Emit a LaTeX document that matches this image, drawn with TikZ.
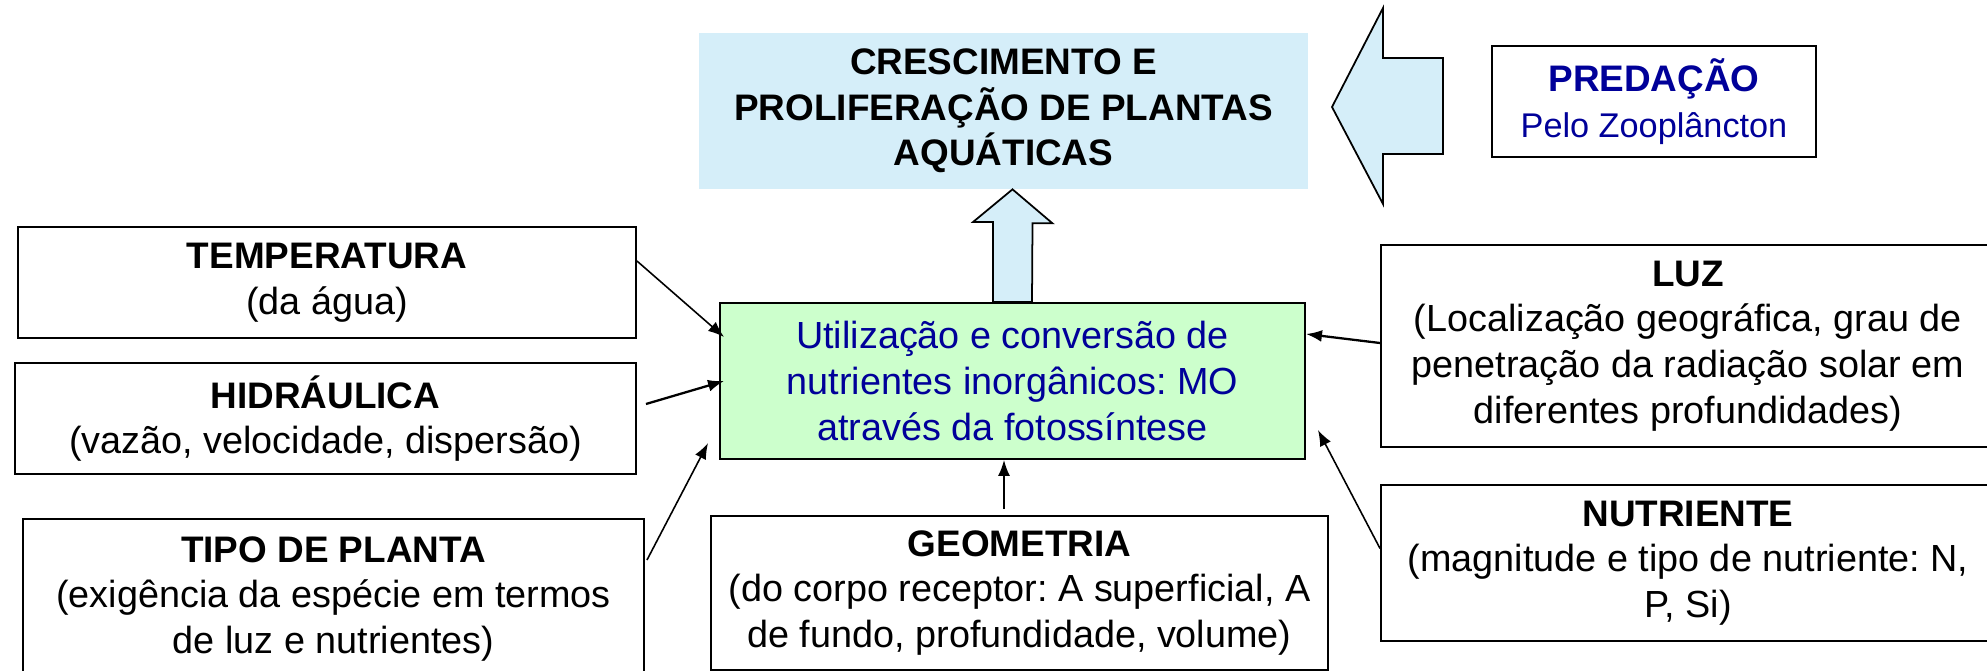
\documentclass[tikz,border=0pt]{standalone}
\usepackage{fontspec}
\setmainfont{Liberation Sans}
\usetikzlibrary{arrows.meta}
\definecolor{sky-fill}{HTML}{D5EEF9}
\definecolor{mint-fill}{HTML}{CCFFCC}
\definecolor{deep-blue}{HTML}{000099}
\newcommand{\titulo}[1]{{\fontsize{21}{26}\selectfont\bfseries #1}}
\frenchspacing

\begin{document}
\begin{tikzpicture}[
    fator/.style={draw, line width=1.1pt, align=center, inner sep=0pt,
                  font=\fontsize{21.5}{26}\selectfont},
    conector/.style={-{Latex[length=0.32cm,width=0.24cm]}, line width=0.9pt},
    bloco/.style={draw, line width=1pt, fill=sky-fill, line join=miter}]
    % Diagram: factors acting on the growth of aquatic plants.
    % Coordinates: (x, y), page 39.74cm x 13.42cm, origin at top left
    %   growth box at (20.07,-2.22), 12.18cm x 3.12cm (no border)
    %   photosynthesis box at (20.25,-7.62), 11.7cm x 3.12cm
    %   left column x=6.5, right column x=33.7, bottom middle x=20.4
    \useasboundingbox (0,0) rectangle (39.74,-13.42);
    \node[fill=sky-fill, minimum width=12.18cm, minimum height=3.12cm,
          align=center, font=\fontsize{21.5}{26}\selectfont] (cresc) at (20.07,-2.22)
          {\titulo{CRESCIMENTO E}\\ \titulo{PROLIFERAÇÃO DE PLANTAS}\\ \titulo{AQUÁTICAS}};
    \node[fator, fill=mint-fill, text=deep-blue, minimum width=11.7cm,
          minimum height=3.12cm] (util) at (20.25,-7.62)
          {Utilização e conversão de\\ nutrientes inorgânicos: MO\\ através da fotossíntese};
    \node[fator, text=deep-blue, minimum width=6.48cm, minimum height=2.22cm,
          font=\fontsize{19.5}{26}\selectfont] (pred) at (33.08,-2.03)
          {\titulo{PREDAÇÃO}\\ Pelo Zooplâncton};
    \node[fator, minimum width=12.36cm, minimum height=2.22cm] (temp) at (6.54,-5.65)
          {\titulo{TEMPERATURA}\\ (da água)};
    \node[fator, minimum width=12.42cm, minimum height=2.22cm] (hidr) at (6.51,-8.37)
          {\titulo{HIDRÁULICA}\\ (vazão, velocidade, dispersão)};
    \node[fator, minimum width=12.42cm, minimum height=3.2cm] (tipo) at (6.67,-11.98)
          {\titulo{TIPO DE PLANTA}\\ (exigência da espécie em termos\\ de luz e nutrientes)};
    \node[fator, minimum width=12.34cm, minimum height=3.08cm] (geom) at (20.39,-11.86)
          {\titulo{GEOMETRIA}\\ (do corpo receptor: A superficial, A\\ de fundo, profundidade, volume)};
    \node[fator, minimum width=12.28cm, minimum height=4.04cm] (luz) at (33.76,-6.92)
          {\titulo{LUZ}\\ (Localização geográfica, grau de\\ penetração da radiação solar em\\ diferentes profundidades)};
    \node[fator, minimum width=12.28cm, minimum height=3.12cm] (nutr) at (33.76,-11.26)
          {\titulo{NUTRIENTE}\\ (magnitude e tipo de nutriente: N,\\ P, Si)};
    % block arrows
    \draw[bloco] ([xshift=-0.39cm]util.north) -- ++(0,1.6) -- ++(-0.4,0)
      -- (util.north |- cresc.south) -- ++(0.8,-0.68) -- ++(-0.4,0)
      -- ([xshift=0.39cm]util.north) -- cycle;
    \draw[bloco] (26.64,-2.14) -- (27.66,-0.16) -- (27.66,-1.16) -- (28.86,-1.16)
      -- (28.86,-3.08) -- (27.66,-3.08) -- (27.66,-4.08) -- cycle;
    % factor arrows
    \draw[conector] ([yshift=0.43cm]temp.east) -- ([xshift=0.1cm,yshift=0.88cm]util.west);
    \draw[conector, line width=1.3pt] ([xshift=0.18cm,yshift=0.29cm]hidr.east) -- ([xshift=0.1cm]util.west);
    \draw[conector] ([xshift=0.04cm,yshift=0.78cm]tipo.east) -- ([xshift=-0.22cm,yshift=-1.24cm]util.west);
    \draw[conector] ([xshift=-0.31cm,yshift=0.12cm]geom.north) -- ([xshift=-0.31cm]geom.north |- util.south);
    \draw[conector, line width=1.3pt] ([yshift=0.06cm]luz.west) -- ([yshift=0.94cm]util.east);
    \draw[conector] ([yshift=0.29cm]nutr.west) -- ([xshift=0.24cm,yshift=-0.98cm]util.east);
\end{tikzpicture}
\end{document}
